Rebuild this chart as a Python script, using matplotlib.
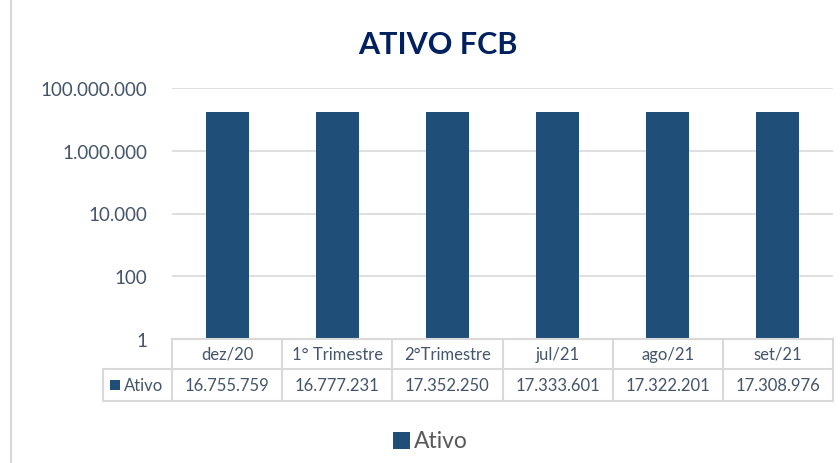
import matplotlib
matplotlib.use("Agg")
import matplotlib.pyplot as plt
import matplotlib.transforms as mtransforms
from matplotlib.patches import Rectangle
from matplotlib.lines import Line2D
from matplotlib.ticker import FixedLocator, FuncFormatter

categories = ["dez/20", "1° Trimestre", "2°Trimestre", "jul/21", "ago/21", "set/21"]
ativo = [16755759, 16777231, 17352250, 17333601, 17322201, 17308976]
series_name = "Ativo"
title = "ATIVO FCB"
yticks = [1, 100, 10000, 1000000, 100000000]

FONT = ["Lato", "DejaVu Sans"]
plt.rcParams["font.family"] = FONT

BAR = "#1F4E79"
TXT = "#44546A"
GRID = "#D9D9D9"

W, H = 840, 464
fig = plt.figure(figsize=(W / 100, H / 100), dpi=100)

def fx(px):
    return px / W

def fy(py):
    return 1 - py / H

# chart frame
fig.add_artist(Rectangle((fx(11), fy(470)), fx(900), 464 / H + 0.02, transform=fig.transFigure,
                         fill=False, edgecolor="#D9D9D9", linewidth=1.5))

left, right, top, bottom = 172, 833, 89, 340
ax = fig.add_axes([fx(left), fy(bottom), fx(right - left), (bottom - top) / H])
ax.set_yscale("log")
ax.set_ylim(1, 100000000)
n = len(categories)
ax.set_xlim(-0.5, n - 0.5)
x = list(range(n))
ax.bar(x, ativo, width=0.39, color=BAR, zorder=3)
ax.yaxis.set_major_locator(FixedLocator(yticks))
ax.yaxis.set_minor_locator(FixedLocator([]))
ax.yaxis.set_major_formatter(FuncFormatter(lambda v, p: f"{int(round(v)):,}".replace(",", ".")))
ax.grid(axis="y", color=GRID, linewidth=1.2, zorder=0)
for s in ax.spines.values():
    s.set_visible(False)
ax.tick_params(axis="y", length=0, pad=18, labelsize=13.5, labelcolor=TXT)
ax.tick_params(axis="x", length=0, labelbottom=False)

# data table
row1_top, row1_bot, row2_bot = 340, 370, 402
key_left = 103
lw = 1.5
tc = GRID
fig.add_artist(Line2D([fx(left), fx(right)], [fy(row1_top), fy(row1_top)], color=tc, lw=lw))
fig.add_artist(Line2D([fx(key_left), fx(right)], [fy(row1_bot), fy(row1_bot)], color=tc, lw=lw))
fig.add_artist(Line2D([fx(key_left), fx(right)], [fy(row2_bot), fy(row2_bot)], color=tc, lw=lw))
fig.add_artist(Line2D([fx(key_left), fx(key_left)], [fy(row1_bot), fy(row2_bot)], color=tc, lw=lw))
colw = (right - left) / n
for i in range(n + 1):
    xx = left + i * colw
    fig.add_artist(Line2D([fx(xx), fx(xx)], [fy(row1_top), fy(row2_bot)], color=tc, lw=lw))

blend = mtransforms.blended_transform_factory(ax.transData, fig.transFigure)
for i, (c, v) in enumerate(zip(categories, ativo)):
    ax.text(i, fy((row1_top + row1_bot) / 2), c, transform=blend, ha="center", va="center",
            fontsize=12, color=TXT)
    ax.text(i, fy((row1_bot + row2_bot) / 2), f"{v:,}".replace(",", "."), transform=blend,
            ha="center", va="center", fontsize=12, color=TXT)

# key in table
fig.add_artist(Rectangle((fx(110), fy(391)), fx(10), 10 / H, transform=fig.transFigure,
                         color=BAR, lw=0))
fig.text(fx(124), fy(386), series_name, ha="left", va="center", fontsize=12, color=TXT)

# legend
fig.add_artist(Rectangle((fx(393), fy(450)), fx(17), 17 / H, transform=fig.transFigure,
                         color=BAR, lw=0))
fig.text(fx(414), fy(441), series_name, ha="left", va="center", fontsize=16.5, color="#595959")

# title
fig.text(fx(438), fy(45), title, ha="center", va="center", fontsize=22, fontweight="bold",
         color="#002060")

fig.savefig("out.png", dpi=100)
